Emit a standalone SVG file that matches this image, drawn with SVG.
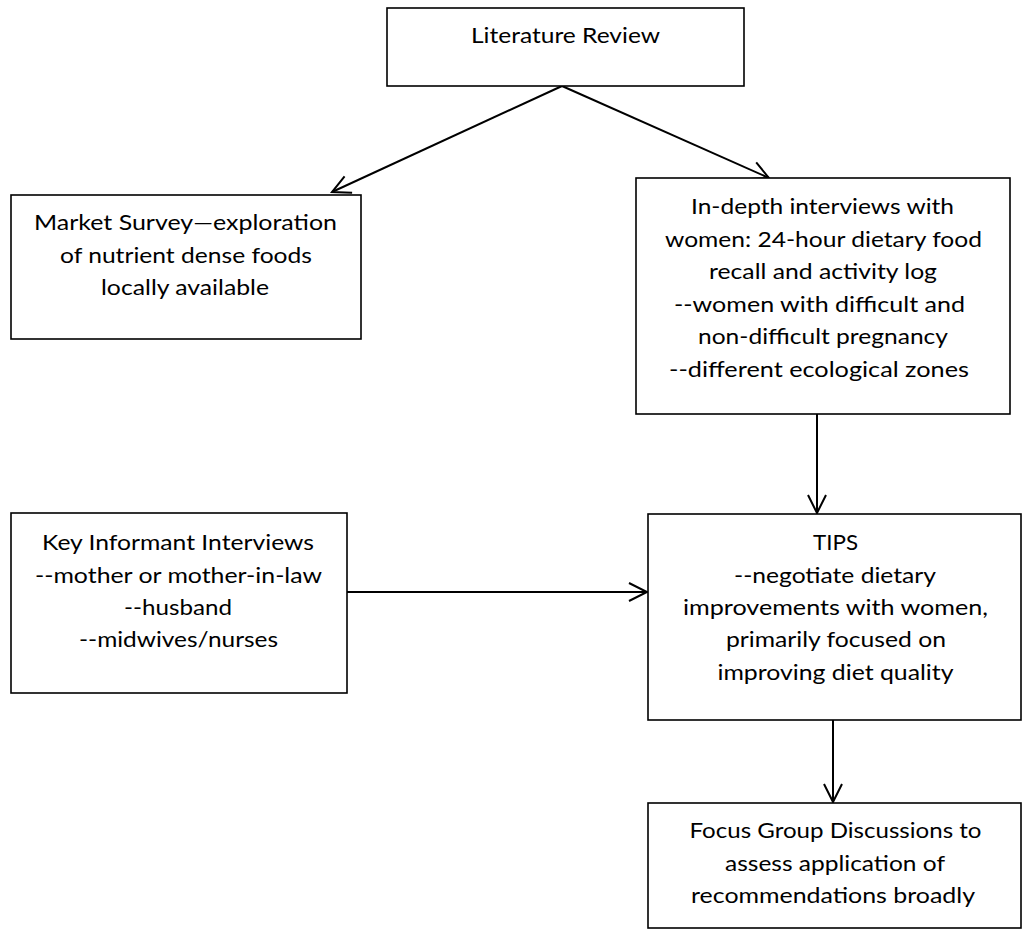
<svg xmlns="http://www.w3.org/2000/svg" width="1024" height="931" viewBox="0 0 1024 931">
<style>
.box{fill:#fff;stroke:#000;stroke-width:1.6}
.t{font-family:Lato,"Liberation Sans",sans-serif;font-size:22px;fill:#000;text-anchor:middle}
.c{stroke:#000;stroke-width:2;fill:none}
</style>
<defs>
<marker id="arr" markerUnits="userSpaceOnUse" markerWidth="24" markerHeight="24" viewBox="-22 -12 24 24" refX="0" refY="0" orient="auto" overflow="visible">
<path d="M-18,-9 L0,0 L-18,9" fill="none" stroke="#000" stroke-width="2"/>
</marker>
</defs>
<rect width="1024" height="931" fill="#fff"/>
<g id="connectors">
<line class="c" x1="562" y1="86" x2="332" y2="192" marker-end="url(#arr)"/>
<line class="c" x1="562" y1="86" x2="769" y2="178" marker-end="url(#arr)"/>
<line class="c" x1="817" y1="414" x2="817" y2="513" marker-end="url(#arr)"/>
<line class="c" x1="347" y1="592" x2="647" y2="592" marker-end="url(#arr)"/>
<line class="c" x1="833" y1="720" x2="833" y2="802" marker-end="url(#arr)"/>
</g>
<g id="literature-review">
<rect class="box" x="387" y="8" width="357" height="78"/>
<text class="t" x="565.5" y="43" textLength="189" lengthAdjust="spacingAndGlyphs">Literature Review</text>
</g>
<g id="market-survey">
<rect class="box" x="11" y="195" width="350" height="144"/>
<text class="t" x="185.5" y="230" textLength="303" lengthAdjust="spacingAndGlyphs">Market Survey—exploration</text>
<text class="t" x="186" y="262.5" textLength="252" lengthAdjust="spacingAndGlyphs">of nutrient dense foods</text>
<text class="t" x="185" y="295" textLength="168" lengthAdjust="spacingAndGlyphs">locally available</text>
</g>
<g id="in-depth-interviews">
<rect class="box" x="636" y="178" width="374" height="236"/>
<text class="t" x="822.5" y="214" textLength="263" lengthAdjust="spacingAndGlyphs">In-depth interviews with</text>
<text class="t" x="823.5" y="246.5" textLength="317" lengthAdjust="spacingAndGlyphs">women: 24-hour dietary food</text>
<text class="t" x="823" y="279" textLength="228" lengthAdjust="spacingAndGlyphs">recall and activity log</text>
<text class="t" x="819.5" y="311.5" textLength="291" lengthAdjust="spacingAndGlyphs">--women with difficult and</text>
<text class="t" x="823" y="344" textLength="250" lengthAdjust="spacingAndGlyphs">non-difficult pregnancy</text>
<text class="t" x="819" y="376.5" textLength="300" lengthAdjust="spacingAndGlyphs">--different ecological zones</text>
</g>
<g id="key-informant-interviews">
<rect class="box" x="11" y="513" width="336" height="180"/>
<text class="t" x="178" y="550" textLength="272" lengthAdjust="spacingAndGlyphs">Key Informant Interviews</text>
<text class="t" x="178.5" y="582.5" textLength="287" lengthAdjust="spacingAndGlyphs">--mother or mother-in-law</text>
<text class="t" x="178" y="615" textLength="108" lengthAdjust="spacingAndGlyphs">--husband</text>
<text class="t" x="178.5" y="647" textLength="199" lengthAdjust="spacingAndGlyphs">--midwives/nurses</text>
</g>
<g id="tips">
<rect class="box" x="648" y="514" width="373" height="206"/>
<text class="t" x="835.5" y="550" textLength="45" lengthAdjust="spacingAndGlyphs">TIPS</text>
<text class="t" x="835" y="582.5" textLength="202" lengthAdjust="spacingAndGlyphs">--negotiate dietary</text>
<text class="t" x="835.5" y="615" textLength="305" lengthAdjust="spacingAndGlyphs">improvements with women,</text>
<text class="t" x="836" y="647" textLength="220" lengthAdjust="spacingAndGlyphs">primarily focused on</text>
<text class="t" x="835.5" y="679.5" textLength="236" lengthAdjust="spacingAndGlyphs">improving diet quality</text>
</g>
<g id="focus-group-discussions">
<rect class="box" x="648" y="803" width="373" height="125"/>
<text class="t" x="835.5" y="838" textLength="292" lengthAdjust="spacingAndGlyphs">Focus Group Discussions to</text>
<text class="t" x="835" y="870.5" textLength="220" lengthAdjust="spacingAndGlyphs">assess application of</text>
<text class="t" x="833" y="903" textLength="284" lengthAdjust="spacingAndGlyphs">recommendations broadly</text>
</g>
</svg>
